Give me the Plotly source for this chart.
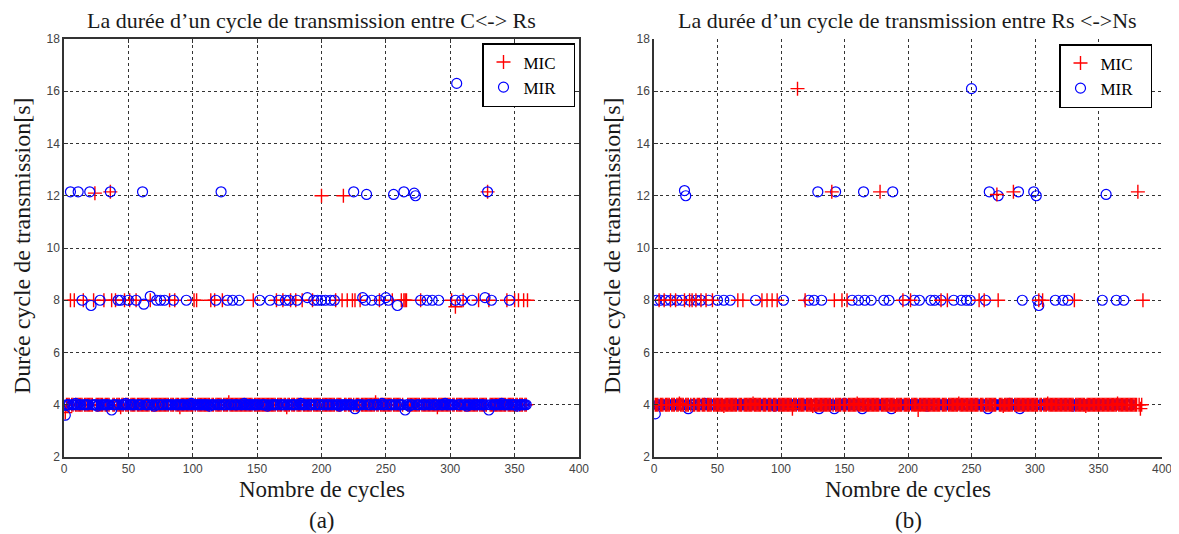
import plotly.graph_objects as go

# Durée d'un cycle de transmission [s] par numéro de cycle (x = 1..N)
# Valeur de base du palier principal, puis les cycles qui s'en écartent.
BASE_S = 4.0

# (a) C <-> Rs
A_MIC_N = 360
A_MIC_HORS = {
    1: 3.7, 24: 12.1, 36: 12.15, 200: 12.0, 217: 12.0, 329: 12.15,
    5: 8.0, 8: 8.0, 15: 8.0, 23: 8.0, 31: 8.0, 37: 8.0, 40: 8.0, 47: 8.0,
    51: 8.0, 56: 8.0, 67: 8.0, 82: 8.0, 86: 8.0, 101: 8.0, 103: 8.0, 114: 8.0,
    117: 8.0, 123: 8.0, 147: 8.0, 165: 8.0, 170: 8.0, 176: 8.0, 180: 8.0,
    185: 8.0, 193: 8.0, 211: 8.0, 216: 8.0, 220: 8.0, 224: 8.0, 226: 8.0,
    230: 8.0, 245: 8.0, 255: 8.0, 262: 8.0, 264: 8.0, 265: 8.0, 266: 8.0,
    277: 8.0, 301: 8.0, 304: 7.75, 310: 8.0, 322: 8.0, 330: 8.0, 344: 8.0,
    350: 8.0, 353: 8.0, 357: 8.0, 360: 8.0,
    44: 3.9, 90: 3.9, 128: 4.1, 173: 3.9, 242: 4.1, 290: 3.9,
}
A_MIR_N = 359
A_MIR_HORS = {
    1: 3.6, 37: 3.8, 226: 3.85, 265: 3.8, 330: 3.8, 305: 16.3,
    5: 12.15, 11: 12.15, 20: 12.15, 36: 12.15, 61: 12.15, 122: 12.15,
    225: 12.15, 235: 12.05, 256: 12.05, 264: 12.15, 272: 12.1, 273: 12.0,
    329: 12.15,
    14: 8.0, 21: 7.8, 28: 8.0, 42: 8.0, 44: 8.0, 50: 8.0, 56: 8.0, 62: 7.85,
    67: 8.15, 72: 8.0, 75: 8.0, 78: 8.0, 85: 8.0, 95: 8.0, 118: 8.0, 127: 8.0,
    131: 8.0, 136: 8.0, 152: 8.0, 160: 8.0, 167: 8.0, 172: 8.0, 175: 8.0,
    181: 8.0, 189: 8.1, 194: 8.0, 197: 8.0, 200: 8.0, 203: 8.0, 207: 8.0,
    210: 8.0, 232: 8.1, 234: 8.0, 239: 8.0, 245: 8.0, 250: 8.1, 252: 8.0,
    259: 7.8, 277: 8.0, 282: 8.0, 286: 8.0, 291: 8.0, 304: 8.0, 309: 8.0,
    317: 8.0, 327: 8.1, 332: 8.0, 346: 8.0,
    9: 4.05, 26: 3.95, 48: 4.05, 70: 3.95, 99: 4.05, 113: 3.95, 140: 4.05,
    158: 3.95, 184: 4.05, 214: 3.95, 247: 4.05, 268: 3.95, 296: 4.05,
    313: 3.95, 340: 4.05, 352: 3.95,
}

# (b) Rs <-> Ns
B_MIC_N = 385
B_MIC_HORS = {
    109: 3.85, 208: 3.8, 383: 3.85, 113: 16.1,
    140: 12.15, 178: 12.15, 270: 12.05, 283: 12.15, 381: 12.15,
    4: 8.0, 8: 8.0, 13: 8.0, 17: 8.0, 24: 8.0, 28: 8.0, 30: 8.0, 33: 8.0,
    37: 8.0, 41: 8.0, 46: 8.0, 66: 8.0, 70: 8.0, 85: 8.0, 89: 8.0, 93: 8.0,
    97: 8.0, 119: 8.0, 142: 8.0, 148: 8.0, 152: 8.0, 196: 8.0, 202: 8.0,
    226: 8.0, 231: 8.0, 256: 8.0, 260: 8.0, 271: 8.0, 303: 8.0, 306: 8.0,
    331: 8.0, 385: 8.0,
    20: 4.05, 55: 3.95, 78: 4.05, 125: 3.95, 160: 4.05, 190: 3.95, 240: 4.05,
    275: 3.95, 310: 4.05, 340: 3.95, 365: 4.05,
}
B_MIR_N = 376
B_MIR_HORS = {
    1: 3.65, 27: 3.85, 130: 3.85, 142: 3.85, 164: 3.85, 187: 3.85,
    263: 3.85, 288: 3.85, 250: 16.1,
    24: 12.2, 25: 12.0, 129: 12.15, 143: 12.15, 165: 12.15, 188: 12.15,
    264: 12.15, 271: 12.0, 287: 12.15, 299: 12.15, 301: 12.0, 356: 12.05,
    2: 8.0, 5: 8.0, 9: 8.0, 13: 8.0, 18: 8.0, 22: 8.0, 28: 8.0, 33: 8.0,
    37: 8.0, 43: 8.0, 50: 8.0, 55: 8.0, 60: 8.0, 80: 8.0, 102: 8.0, 122: 8.0,
    126: 8.0, 132: 8.0, 156: 8.0, 161: 8.0, 166: 8.0, 171: 8.0, 181: 8.0,
    185: 8.0, 197: 8.0, 205: 8.0, 209: 8.0, 218: 8.0, 221: 8.0, 226: 8.0,
    236: 8.0, 242: 8.0, 246: 8.0, 249: 8.0, 261: 8.0, 290: 8.0, 302: 8.0,
    303: 7.8, 316: 8.0, 322: 8.0, 326: 8.0, 353: 8.0, 364: 8.0, 370: 8.0,
    40: 4.05, 95: 3.95, 150: 4.05, 215: 3.95, 280: 4.05, 330: 3.95,
}

X_TICKS = [0, 50, 100, 150, 200, 250, 300, 350, 400]
Y_TICKS = [2, 4, 6, 8, 10, 12, 14, 16, 18]

SERIF = 'Liberation Serif'
SANS = 'Liberation Sans'
W, H = 1179, 534
DEC = 8  # marge par défaut de la page html


def px_x(p):
    return (p - DEC) / W


def px_y(p):
    return 1 - (p - DEC) / H


def serie(n, hors):
    x = list(range(1, n + 1))
    y = [hors.get(i, BASE_S) for i in x]
    return x, y


def trace_mic(n, hors, xa, ya, leg):
    x, y = serie(n, hors)
    return go.Scatter(x=x, y=y, mode='markers', name='MIC\u00a0\u00a0\u00a0',
                      xaxis=xa, yaxis=ya, legend=leg, legendrank=1,
                      marker=dict(symbol='cross-thin', size=10, color='red',
                                  line=dict(color='red', width=1.4)))


def trace_mir(n, hors, xa, ya, leg):
    x, y = serie(n, hors)
    return go.Scatter(x=x, y=y, mode='markers', name='MIR\u00a0\u00a0\u00a0',
                      xaxis=xa, yaxis=ya, legend=leg, legendrank=2,
                      marker=dict(symbol='circle-open', size=10, color='blue',
                                  line=dict(color='blue', width=1.2)))


fig = go.Figure()
# (a) : MIR dessiné par-dessus MIC
fig.add_trace(trace_mic(A_MIC_N, A_MIC_HORS, 'x', 'y', 'legend'))
fig.add_trace(trace_mir(A_MIR_N, A_MIR_HORS, 'x', 'y', 'legend'))
# (b) : MIC dessiné par-dessus MIR
fig.add_trace(trace_mir(B_MIR_N, B_MIR_HORS, 'x2', 'y2', 'legend2'))
fig.add_trace(trace_mic(B_MIC_N, B_MIC_HORS, 'x2', 'y2', 'legend2'))

y_dom = [px_y(457), px_y(39)]
axe = dict(showgrid=True, gridcolor='#333', griddash='dot', gridwidth=1,
           showline=True, linecolor='#333', linewidth=1.5, zeroline=False,
           ticks='inside', ticklen=4, tickcolor='#333', automargin=False,
           tickfont=dict(family=SANS, size=12, color='#444'))

leg_style = dict(xanchor='right', yanchor='top', bgcolor='white',
                 bordercolor='black', borderwidth=1.5,
                 font=dict(family=SERIF, size=17, color='black'),
                 itemwidth=30, tracegroupgap=0)

fig.update_layout(
    width=W, height=H,
    paper_bgcolor='white', plot_bgcolor='white',
    margin=dict(l=0, r=0, t=0, b=0, autoexpand=False),
    xaxis=dict(axe, domain=[px_x(64), px_x(579)], range=[0, 400], tickvals=X_TICKS,
               mirror='ticks', anchor='y'),
    yaxis=dict(axe, domain=y_dom, range=[2, 18], tickvals=Y_TICKS,
               mirror='ticks', anchor='x'),
    xaxis2=dict(axe, domain=[px_x(654), px_x(1162)], range=[0, 400], tickvals=X_TICKS,
                anchor='y2'),
    yaxis2=dict(axe, domain=y_dom, range=[2, 18], tickvals=Y_TICKS, anchor='x2'),
    legend=dict(leg_style, x=px_x(575), y=px_y(43)),
    legend2=dict(leg_style, x=px_x(1152), y=px_y(44)),
    showlegend=True,
)

textes = [
    (312, 21, 0, 22, 'La durée d’un cycle de transmission entre C<-> Rs'),
    (907, 21, 0, 22, 'La durée d’un cycle de transmission entre Rs <->Ns'),
    (322, 489, 0, 23, 'Nombre de cycles'),
    (908, 489, 0, 23, 'Nombre de cycles'),
    (322, 520, 0, 23, '(a)'),
    (908, 520, 0, 23, '(b)'),
    (22, 246, -90, 24, 'Durée cycle de transmission[s]'),
    (612, 246, -90, 24, 'Durée cycle de transmission[s]'),
]
for px, py, ang, taille, txt in textes:
    fig.add_annotation(x=px_x(px), y=px_y(py), xref='paper', yref='paper',
                       text=txt, showarrow=False, textangle=ang,
                       xanchor='center', yanchor='middle',
                       font=dict(family=SERIF, size=taille, color='#1a1a1a'))

fig.write_html('out.html')
